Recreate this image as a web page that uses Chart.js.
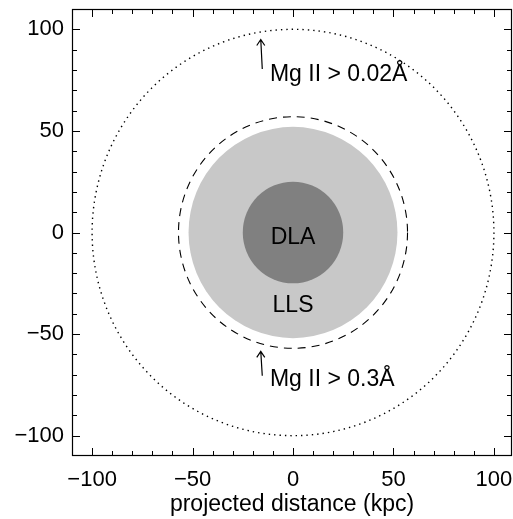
<!DOCTYPE html>
<html>
<head>
<meta charset="utf-8">
<script src="https://cdn.jsdelivr.net/npm/chart.js@4"></script>
<style>
  body { margin: 0; background: #fff; }
  canvas { display: block; }
</style>
</head>
<body>
<canvas id="haloChart" width="513" height="519"></canvas>
<script>
// absorber cross-sections around a galaxy, radii in kpc
const tickValues = [-100, -50, 0, 50, 100];
const minorTickValues = [-100, -90, -80, -70, -60, -50, -40, -30, -20, -10, 0, 10, 20, 30, 40, 50, 60, 70, 80, 90, 100];
const regionNames = ['LLS', 'DLA'];
const regionRadii = [52, 25];
const limitNames = ['Mg II > 0.3Å', 'Mg II > 0.02Å'];
const limitRadii = [57, 100];

const FONT = 'Liberation Sans, Arial, Helvetica, sans-serif';

function fmt(v) {
  return v < 0 ? '\u2212' + Math.abs(v) : String(v);
}

// labels hanging past the plot edge should not shrink the plot
function noOverhang(s) {
  s.paddingLeft = 0; s.paddingRight = 0; s.paddingTop = 0; s.paddingBottom = 0;
}

const haloPlugin = {
  id: 'halo',
  beforeDatasetsDraw(chart) {
    const { ctx, chartArea } = chart;
    const xs = chart.scales.x, ys = chart.scales.y;
    const cx = xs.getPixelForValue(0), cy = ys.getPixelForValue(0);
    const rx = r => xs.getPixelForValue(r) - cx;
    const ry = r => cy - ys.getPixelForValue(r);

    ctx.save();
    ctx.beginPath();
    ctx.rect(chartArea.left, chartArea.top, chartArea.right - chartArea.left, chartArea.bottom - chartArea.top);
    ctx.clip();

    // filled regions
    const fills = ['#c8c8c8', '#808080'];
    regionRadii.forEach((r, i) => {
      ctx.beginPath();
      ctx.ellipse(cx, cy, rx(r), ry(r), 0, 0, Math.PI * 2);
      ctx.fillStyle = fills[i];
      ctx.fill();
    });

    // Mg II limits: dashed and dotted
    const dashes = [[8, 6], [1.4, 4]];
    const widths = [1.1, 1.4];
    limitRadii.forEach((r, i) => {
      ctx.beginPath();
      ctx.ellipse(cx, cy, rx(r), ry(r), 0, 0, Math.PI * 2);
      ctx.setLineDash(dashes[i]);
      ctx.strokeStyle = '#000';
      ctx.lineWidth = widths[i];
      ctx.stroke();
    });
    ctx.setLineDash([]);

    // region names
    ctx.fillStyle = '#000';
    ctx.font = '23px ' + FONT;
    ctx.textAlign = 'center';
    ctx.textBaseline = 'middle';
    const regionLabelY = [-36, -2.5];
    regionNames.forEach((name, i) => {
      ctx.fillText(name, cx, ys.getPixelForValue(regionLabelY[i]));
    });

    // limit labels with arrows pointing at the circles
    const labelPos = [{ x: -11.5, y: -75.5, tip: -58.5, tail: -70.5 }, { x: -11.5, y: 74.5, tip: 95, tail: 80.5 }];
    ctx.textAlign = 'left';
    ctx.textBaseline = 'alphabetic';
    limitNames.forEach((name, i) => {
      const p = labelPos[i];
      ctx.fillText(name, xs.getPixelForValue(p.x), ys.getPixelForValue(p.y));
      const ax = xs.getPixelForValue(-15.3);
      const tx = ax - 1.5;
      const ty = ys.getPixelForValue(p.tip);
      ctx.beginPath();
      ctx.moveTo(ax, ys.getPixelForValue(p.tail));
      ctx.lineTo(tx, ty);
      ctx.moveTo(tx - 4, ty + 6);
      ctx.lineTo(tx, ty);
      ctx.lineTo(tx + 4, ty + 6);
      ctx.lineWidth = 1.2;
      ctx.stroke();
    });
    ctx.restore();
  },
  afterDraw(chart) {
    const { ctx, chartArea } = chart;
    const xs = chart.scales.x, ys = chart.scales.y;
    const { left, right, top, bottom } = chartArea;
    ctx.save();
    ctx.strokeStyle = '#000';
    ctx.lineWidth = 1.2;
    ctx.strokeRect(left + 0.5, top + 0.5, right - left - 1, bottom - top - 1);
    ctx.lineWidth = 1;
    ctx.beginPath();
    minorTickValues.forEach(v => {
      const len = tickValues.includes(v) ? 8 : 5;
      const px = Math.round(xs.getPixelForValue(v)) + 0.5;
      ctx.moveTo(px, bottom); ctx.lineTo(px, bottom - len);
      ctx.moveTo(px, top); ctx.lineTo(px, top + len);
      const py = Math.round(ys.getPixelForValue(v)) + 0.5;
      ctx.moveTo(left, py); ctx.lineTo(left + len, py);
      ctx.moveTo(right, py); ctx.lineTo(right - len, py);
    });
    ctx.stroke();
    ctx.restore();
  }
};

new Chart(document.getElementById('haloChart'), {
  type: 'scatter',
  data: { datasets: [{ data: [] }] },
  plugins: [haloPlugin],
  options: {
    responsive: false,
    animation: false,
    layout: { padding: { top: 9, right: 1, left: 0, bottom: 0 } },
    plugins: { legend: { display: false }, tooltip: { enabled: false } },
    scales: {
      x: {
        type: 'linear',
        min: -110,
        max: 109,
        afterBuildTicks: s => { s.ticks = tickValues.map(v => ({ value: v })); },
        afterFit: s => { s.height = 63; noOverhang(s); },
        grid: { display: false, drawTicks: false },
        border: { display: false },
        ticks: { color: '#000', font: { family: FONT, size: 22 }, padding: 11, maxRotation: 0, autoSkip: false, callback: fmt },
        title: { display: true, text: 'projected distance (kpc)', color: '#000', font: { family: FONT, size: 23 }, padding: { top: 0, bottom: 1 } }
      },
      y: {
        type: 'linear',
        min: -110,
        max: 110,
        afterBuildTicks: s => { s.ticks = tickValues.map(v => ({ value: v })); },
        afterFit: s => { s.width = 72; noOverhang(s); },
        grid: { display: false, drawTicks: false },
        border: { display: false },
        ticks: { color: '#000', font: { family: FONT, size: 22 }, padding: 8, autoSkip: false, callback: fmt }
      }
    }
  }
});
</script>
</body>
</html>
